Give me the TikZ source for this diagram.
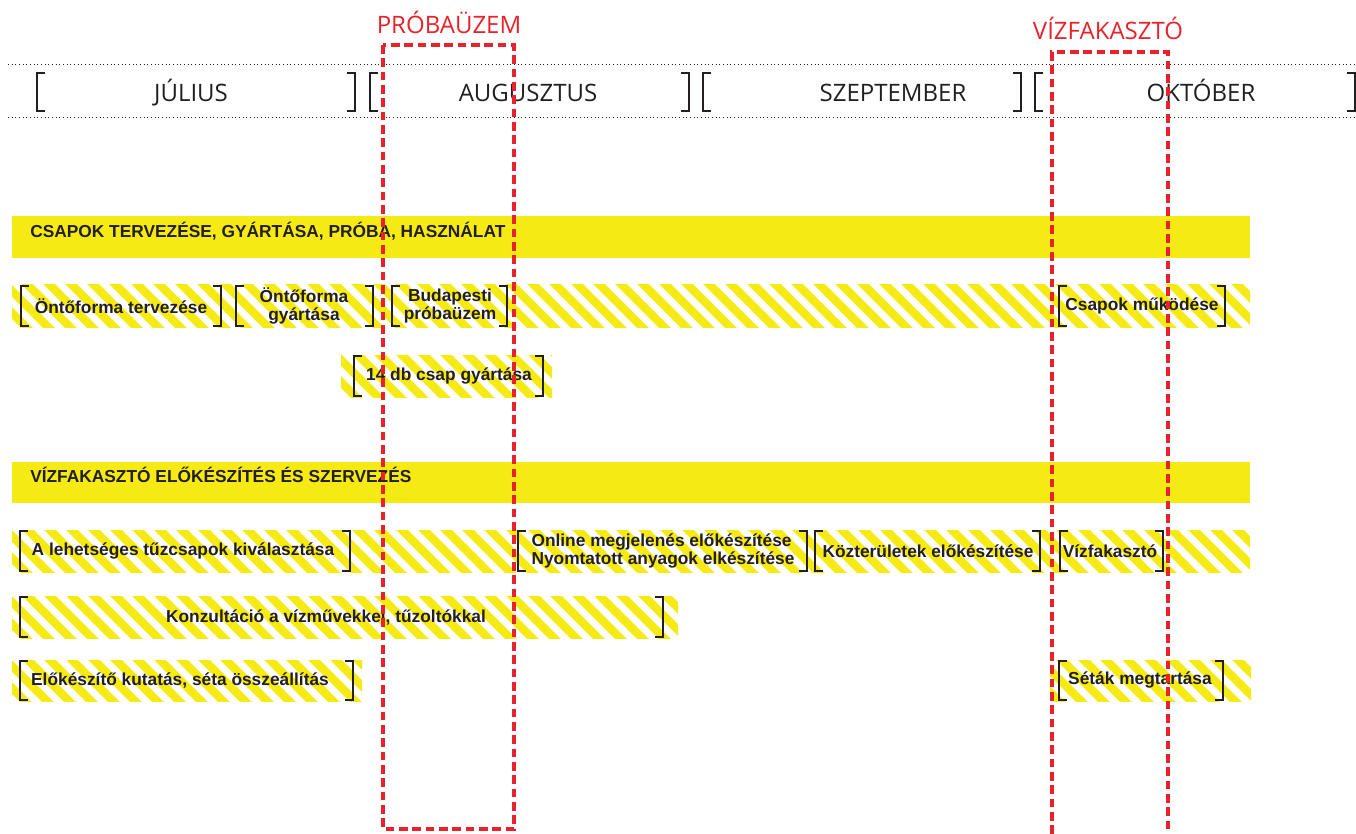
\documentclass[tikz,border=0pt]{standalone}
\usepackage{fontspec}
\setmainfont{Liberation Sans}
\newfontfamily\monthfont{Open Sans}
\usetikzlibrary{positioning}

\definecolor{barYellow}{RGB}{246,234,20}
\definecolor{markRed}{RGB}{232,34,42}
\definecolor{inkGray}{RGB}{35,31,32}

\tikzset{
  brk/.style={inkGray, line width=1.5pt},
  mbrk/.style={inkGray, line width=1.1pt},
  task/.style={text=inkGray, font=\bfseries\fontsize{13}{13.5}\selectfont, align=center, inner sep=0pt},
  head/.style={text=inkGray, font=\bfseries\fontsize{13}{13.5}\selectfont, anchor=base west, inner sep=0pt},
  month/.style={text=inkGray, font=\monthfont\fontsize{18}{20}\selectfont, anchor=base, inner sep=0pt},
  redlabel/.style={text=markRed, font=\monthfont\fontsize{18}{20}\selectfont, anchor=base, inner sep=0pt},
  redbox/.style={markRed, line width=2.6pt, dash pattern=on 6.5pt off 3.5pt},
}

% striped bar: x1, y1, x2, y2
\newcommand{\stripebar}[4]{%
  \begin{scope}
    \clip (#1,#2) rectangle (#3,#4);
    \foreach \s in {-60,-38,...,1270}
      \draw[barYellow, line width=6.2pt] ({\s-10},{#2-10}) -- ({\s+#4-#2+10},{#4+10});
  \end{scope}}
% brackets: [style] x, y1, y2
\newcommand{\lbrk}[4][brk]{\draw[#1] ({#2+8},#3) -- (#2,#3) -- (#2,#4) -- ({#2+8},#4);}
\newcommand{\rbrk}[4][brk]{\draw[#1] ({#2-8},#3) -- (#2,#3) -- (#2,#4) -- ({#2-8},#4);}

\begin{document}
\begin{tikzpicture}[x=0.75pt, y=-0.75pt]
\useasboundingbox (0,0) rectangle (1356,834);

% months
\draw[inkGray, dotted, line width=0.75pt] (8,65) -- (1356,65);
\draw[inkGray, dotted, line width=0.75pt] (8,118) -- (1356,118);
\lbrk[mbrk]{37}{73}{111} \rbrk[mbrk]{355}{73}{111}
\lbrk[mbrk]{370}{73}{111} \rbrk[mbrk]{689}{73}{111}
\lbrk[mbrk]{703}{73}{111} \rbrk[mbrk]{1021}{73}{111}
\lbrk[mbrk]{1035}{73}{111} \rbrk[mbrk]{1355}{73}{111}
\node[month] (julius) at (191,102) {JÚLIUS};
\node[month] (augusztus) at (528,102) {AUGUSZTUS};
\node[month] (szeptember) at (893,102) {SZEPTEMBER};
\node[month] (oktober) at (1201,102) {OKTÓBER};

% csapok
\fill[barYellow] (12,216) rectangle (1250,258);
\node[head] (csapok) at (30,238) {CSAPOK TERVEZÉSE, GYÁRTÁSA, PRÓBA, HASZNÁLAT};

\stripebar{12}{285}{1250}{327}
\lbrk{21}{286}{326} \rbrk{221}{286}{326}
\node[task] (tervezes) at (121,306) {Öntőforma tervezése};
\lbrk{236}{286}{326} \rbrk{373}{286}{326}
\node[task] (gyartas) at (304,306) {Öntőforma\\gyártása};
\lbrk{392}{286}{326} \rbrk{507}{286}{326}
\node[task] (proba) at (450,306) {Budapesti\\próbaüzem};
\lbrk{1059}{286}{326} \rbrk{1225}{286}{326}
\node[task] (mukodes) at (1142,306) {Csapok működése};

\stripebar{341}{355}{552}{397}
\lbrk{354}{356}{396} \rbrk{543}{356}{396}
\node[task] (tizennegy) at (449,376) {14 db csap gyártása};

% vizfakaszto
\fill[barYellow] (12,462) rectangle (1250,503);
\node[head] (vizfak) at (30,482) {VÍZFAKASZTÓ ELŐKÉSZÍTÉS ÉS SZERVEZÉS};

\stripebar{12}{530}{1250}{572}
\lbrk{20}{531}{571} \rbrk{350}{531}{571}
\node[task] (kivalasztas) at (183,551) {A lehetséges tűzcsapok kiválasztása};
\lbrk{518}{531}{571} \rbrk{807}{531}{571}
\node[task, align=left] (online) at (663,551) {Online megjelenés előkészítése\\Nyomtatott anyagok elkészítése};
\lbrk{815}{531}{571} \rbrk{1040}{531}{571}
\node[task] (kozterulet) at (928,551) {Közterületek előkészítése};
\lbrk{1060}{531}{571} \rbrk{1163}{531}{571}
\node[task] (esemeny) at (1110,551) {Vízfakasztó};

\stripebar{12}{596}{678}{638}
\lbrk{20}{597}{637} \rbrk{663}{597}{637}
\node[task] (konzultacio) at (326,617) {Konzultáció a vízművekkel, tűzoltókkal};

\stripebar{12}{660}{362}{701}
\lbrk{20}{661}{700} \rbrk{353}{661}{700}
\node[task] (kutatas) at (180,680) {Előkészítő kutatás, séta összeállítás};

\stripebar{1050}{660}{1251}{701}
\lbrk{1059}{661}{700} \rbrk{1223}{661}{700}
\node[task] (setak) at (1140,680) {Séták megtartása};

% red markers
\draw[redbox] (383,45) rectangle (514,829);
\node[redlabel] (probalabel) at (449,34) {PRÓBAÜZEM};
\draw[redbox] (1052,834) -- (1052,52) -- (1168,52) -- (1168,834);
\node[redlabel] (vizlabel) at (1108,40) {VÍZFAKASZTÓ};

\end{tikzpicture}
\end{document}
